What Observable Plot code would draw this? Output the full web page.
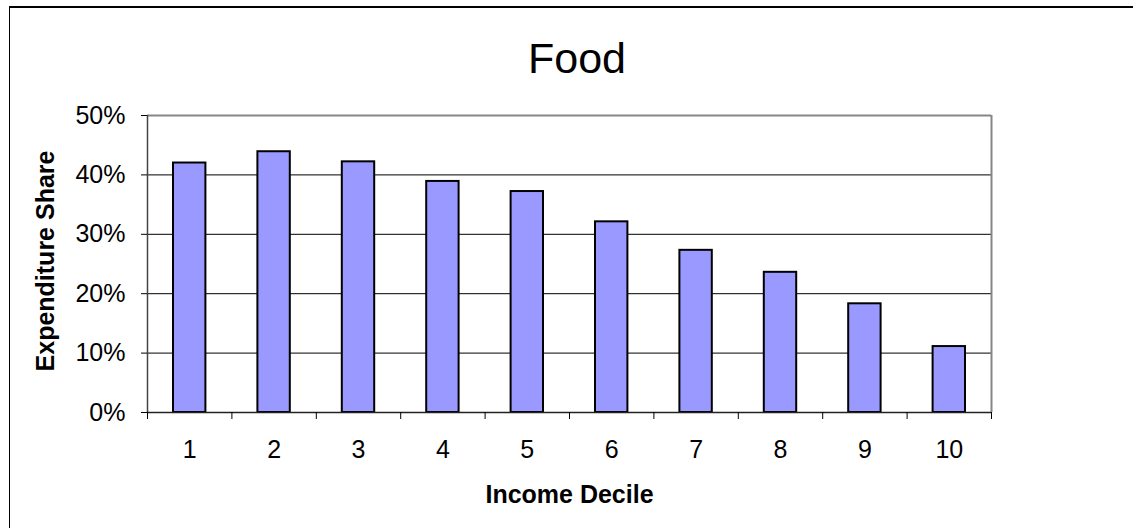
<!DOCTYPE html>
<html>
<head>
<meta charset="utf-8">
<script src="https://cdn.jsdelivr.net/npm/d3@7"></script>
<script src="https://cdn.jsdelivr.net/npm/@observablehq/plot@0.6"></script>
<style>
  html, body { margin: 0; padding: 0; background: #fff; overflow: hidden; }
  #wrap { position: relative; width: 1133px; height: 528px; }
  #edge {
    position: absolute; left: 9px; top: 6px; width: 1200px; height: 600px;
    border-left: 1.5px solid #000; border-top: 2px solid #000; box-sizing: border-box;
  }
  #chart { position: absolute; left: 0; top: 0; }
</style>
</head>
<body>
<div id="wrap"><div id="edge"></div><div id="chart"></div></div>
<script>
// Food expenditure share by income decile
const deciles = [1, 2, 3, 4, 5, 6, 7, 8, 9, 10];
const shares = [0.420, 0.439, 0.422, 0.389, 0.372, 0.321, 0.273, 0.236, 0.183, 0.111];
const yTicks = [0, 0.1, 0.2, 0.3, 0.4, 0.5];
const gridTicks = [0.1, 0.2, 0.3, 0.4];
const titleText = "Food";
const xLabel = "Income Decile";
const yLabel = "Expenditure Share";

const rows = deciles.map((d, i) => ({decile: d, share: shares[i]}));
// category boundaries, where the x-axis tick marks sit
const bounds = [deciles[0] - 0.5, ...deciles.map(d => d + 0.5)];

const font = "'Liberation Sans', Arial, Helvetica, sans-serif";

const chart = Plot.plot({
  width: 1133,
  height: 528,
  marginLeft: 147,
  marginRight: 142,
  marginTop: 115,
  marginBottom: 116,
  style: {fontFamily: font, color: "#000", background: "transparent", overflow: "visible"},
  x: {domain: [bounds[0], bounds[bounds.length - 1]], axis: null, label: null},
  y: {domain: [0, 0.5], axis: null, label: null},
  marks: [
    Plot.ruleY(gridTicks, {stroke: "#000", strokeWidth: 1}),
    Plot.ruleY([0.5], {stroke: "#868686", strokeWidth: 2}),
    Plot.ruleX([bounds[bounds.length - 1]], {stroke: "#868686", strokeWidth: 2}),
    Plot.rectY(rows, {
      x1: d => d.decile - 0.5,
      x2: d => d.decile + 0.5,
      y: "share",
      insetLeft: 26,
      insetRight: 26,
      fill: "#9999ff",
      stroke: "#000",
      strokeWidth: 2
    }),
    Plot.ruleX([bounds[0]], {stroke: "#444", strokeWidth: 1.5}),
    Plot.ruleY([0], {stroke: "#222", strokeWidth: 1.5}),
    Plot.axisY(yTicks, {
      label: null,
      tickSize: 6,
      tickPadding: 16,
      tickFormat: d3.format(".0%"),
      fontSize: 25,
      stroke: "#000",
      fill: "#000"
    }),
    Plot.axisX(bounds, {
      label: null,
      tickSize: 7,
      tickFormat: () => "",
      stroke: "#000"
    }),
    Plot.axisX(deciles, {
      label: null,
      tickSize: 0,
      tickPadding: 28,
      tickFormat: d => String(d),
      fontSize: 25,
      fill: "#000"
    }),
    Plot.text([titleText], {
      frameAnchor: "top",
      lineAnchor: "bottom",
      dy: -43,
      dx: 7.5,
      fontSize: 43,
      fill: "#000"
    }),
    Plot.text([xLabel], {
      frameAnchor: "bottom",
      lineAnchor: "bottom",
      dy: 90,
      fontSize: 25,
      fontWeight: "bold",
      fill: "#000"
    }),
    Plot.text([yLabel], {
      frameAnchor: "left",
      textAnchor: "middle",
      lineAnchor: "bottom",
      rotate: -90,
      dx: -94,
      dy: -3,
      fontSize: 25,
      fontWeight: "bold",
      fill: "#000"
    })
  ]
});

document.getElementById("chart").appendChild(chart);
</script>
</body>
</html>
